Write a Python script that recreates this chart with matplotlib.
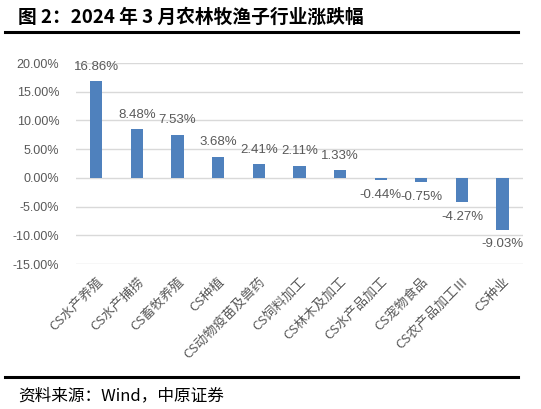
import matplotlib.pyplot as plt
from matplotlib.lines import Line2D

plt.rcParams['font.family'] = ['Noto Sans CJK SC', 'DejaVu Sans']

categories = ['CS水产养殖', 'CS水产捕捞', 'CS畜牧养殖', 'CS种植', 'CS动物疫苗及兽药',
              'CS饲料加工', 'CS林木及加工', 'CS水产品加工', 'CS宠物食品',
              'CS农产品加工Ⅲ', 'CS种业']
values = [16.86, 8.48, 7.53, 3.68, 2.41, 2.11, 1.33, -0.44, -0.75, -4.27, -9.03]
yticks = [20, 15, 10, 5, 0, -5, -10, -15]

gray = '#595959'
bar_color = '#4f81bd'

fig = plt.figure(figsize=(5.41, 4.09), dpi=100)
ax = fig.add_axes([0.1405, 0.3545, 0.826, 0.4914])

x = range(len(categories))
ax.bar(x, values, width=0.3, color=bar_color, zorder=3)

for xi, v in zip(x, values):
    if v >= 0:
        ax.annotate(f'{v:.2f}%', (xi, v), xytext=(0, 6), textcoords='offset points',
                    ha='center', va='bottom', fontsize=9.5, color=gray, family='Liberation Sans')
    else:
        ax.annotate(f'{v:.2f}%', (xi, v), xytext=(0, -6), textcoords='offset points',
                    ha='center', va='top', fontsize=9.5, color=gray, family='Liberation Sans')

ax.set_xlim(-0.5, len(categories) - 0.5)
ax.set_ylim(-15, 20)
ax.set_yticks(yticks)
ax.set_yticklabels([f'{t:.2f}%' for t in yticks], fontsize=9, color=gray, family='Liberation Sans')
ax.set_xticks(list(x))
ax.set_xticklabels(categories, rotation=45, ha='right', rotation_mode='anchor',
                   fontsize=9.5, color=gray)
ax.tick_params(axis='y', length=0, pad=12)
ax.tick_params(axis='x', length=0, pad=8)
ax.yaxis.grid(True, color='#d9d9d9', lw=1, zorder=0)
for s in ax.spines.values():
    s.set_visible(False)

# title, rules and source
fig.text(18 / 541, 1 - 17 / 409, '图 2：2024 年 3 月农林牧渔子行业涨跌幅', fontsize=13.5,
         fontweight='bold', ha='left', va='center')
fig.add_artist(Line2D([5 / 541, 518 / 541], [1 - 32 / 409, 1 - 32 / 409], color='black', lw=2.2))
fig.add_artist(Line2D([5 / 541, 518 / 541], [1 - 377 / 409, 1 - 377 / 409], color='black', lw=2.2))
fig.text(18 / 541, 1 - 396 / 409, '资料来源：Wind，中原证券', fontsize=12, ha='left', va='center')

plt.savefig('out.png', dpi=100)
